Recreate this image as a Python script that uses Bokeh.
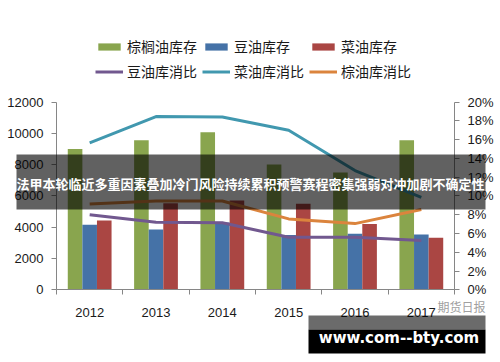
from bokeh.plotting import figure
from bokeh.models import (Range1d, LinearAxis, FixedTicker, PrintfTickFormatter,
                          Legend, LegendItem, BoxAnnotation, Label, ColumnDataSource)
from bokeh.transform import dodge
from bokeh.embed import file_html
from bokeh.resources import INLINE

# ---- data ----
years = ["2012", "2013", "2014", "2015", "2016", "2017"]
palm_stock = [9000, 9550, 10070, 8000, 7500, 9550]      # 棕榈油库存
soy_stock = [4150, 3850, 4300, 3500, 3580, 3530]        # 豆油库存
rape_stock = [4430, 5530, 5700, 5500, 4200, 3320]       # 菜油库存
soy_ratio = [8.0, 7.2, 7.15, 5.6, 5.6, 5.25]            # 豆油库消比 (%)
rape_ratio = [15.65, 18.45, 18.4, 17.0, 12.7, 9.85]     # 菜油库消比 (%)
palm_ratio = [9.15, 9.45, 9.45, 7.55, 7.05, 8.55]       # 棕油库消比 (%)
left_ticks = [0, 2000, 4000, 6000, 8000, 10000, 12000]
right_ticks = [0, 2, 4, 6, 8, 10, 12, 14, 16, 18, 20]

banner_text = "法甲本轮临近多重因素叠加冷门风险持续累积预警赛程密集强弱对冲加剧不确定性"
site_text = "www.com--bty.com"
source_text = "期货日报"

n = len(years)
xc = [i + 0.5 for i in range(n)]
src = ColumnDataSource(dict(x=xc, palm=palm_stock, soy=soy_stock, rape=rape_stock,
                            sr=soy_ratio, rr=rape_ratio, pr=palm_ratio))

# ---- canvas geometry (pixels) ----
W, H = 500, 362
PL, PR, PT, PB = 56.0, 454.0, 101.5, 289.3   # chart area
YMAX, PMAX = 12000.0, 20.0
xpx = n / (PR - PL)
ypx = YMAX / (PB - PT)
x_start, x_end = -PL * xpx, n + (W - PR) * xpx
y_start, y_end = -(H - PB) * ypx, YMAX + PT * ypx

p = figure(width=W, height=H, output_backend="svg", toolbar_location=None,
           x_range=Range1d(x_start, x_end), y_range=Range1d(y_start, y_end),
           min_border=0, min_border_left=0, min_border_right=0,
           min_border_top=0, min_border_bottom=0,
           background_fill_color="white", border_fill_color="white", outline_line_color=None)
p.xgrid.visible = False
p.ygrid.visible = False
p.extra_y_ranges = {"pct": Range1d(y_start * PMAX / YMAX, y_end * PMAX / YMAX)}

FONT = "Liberation Sans"
AX = "#868686"
LBL = "#1a1a1a"

# x axis
xa = p.xaxis[0]
xa.fixed_location = 0
xa.bounds = (0, n)
xa.ticker = FixedTicker(ticks=xc, minor_ticks=list(range(n + 1)))
xa.major_label_overrides = {x: y for x, y in zip(xc, years)}
xa.major_tick_out = 0
xa.major_tick_in = 0
xa.minor_tick_out = 5
xa.minor_tick_in = 0
xa.minor_tick_line_color = AX
xa.axis_line_color = AX
xa.major_label_standoff = 13
xa.major_label_text_font = FONT
xa.major_label_text_font_size = "13px"
xa.major_label_text_color = LBL

# left axis
ya = p.yaxis[0]
ya.fixed_location = 0
ya.bounds = (0, YMAX)
ya.ticker = FixedTicker(ticks=left_ticks)
ya.major_tick_out = 5
ya.major_tick_in = 0
ya.minor_tick_out = 0
ya.minor_tick_in = 0
ya.axis_line_color = AX
ya.major_tick_line_color = AX
ya.major_label_standoff = 8
ya.major_label_text_font = FONT
ya.major_label_text_font_size = "13px"
ya.major_label_text_color = LBL

# right axis
ra = LinearAxis(y_range_name="pct", ticker=FixedTicker(ticks=right_ticks),
                formatter=PrintfTickFormatter(format="%d%%"), fixed_location=n,
                bounds=(0, PMAX))
ra.major_tick_out = 5
ra.major_tick_in = 0
ra.minor_tick_out = 0
ra.minor_tick_in = 0
ra.axis_line_color = AX
ra.major_tick_line_color = AX
ra.major_label_standoff = 8
ra.major_label_text_font = FONT
ra.major_label_text_font_size = "13px"
ra.major_label_text_color = LBL
p.add_layout(ra, "right")

# bars
bw = 0.22
GREEN, BLUE, RED = "#89A54E", "#4572A7", "#AA4643"
PURPLE, TEAL, ORANGE = "#71588F", "#4198AF", "#DB843D"
r_palm = p.vbar(x=dodge("x", -bw, range=p.x_range), top="palm", width=bw, source=src,
                fill_color=GREEN, line_color=None)
r_soy = p.vbar(x=dodge("x", 0.0, range=p.x_range), top="soy", width=bw, source=src,
               fill_color=BLUE, line_color=None)
r_rape = p.vbar(x=dodge("x", bw, range=p.x_range), top="rape", width=bw, source=src,
                fill_color=RED, line_color=None)

# lines
r_sr = p.line("x", "sr", source=src, y_range_name="pct", line_color=PURPLE, line_width=3, line_join="round")
r_rr = p.line("x", "rr", source=src, y_range_name="pct", line_color=TEAL, line_width=3, line_join="round")
r_pr = p.line("x", "pr", source=src, y_range_name="pct", line_color=ORANGE, line_width=3, line_join="round")

LFONT = "Noto Sans CJK SC"

def mk_legend(items, loc):
    return Legend(items=items, location=loc, orientation="horizontal",
                  glyph_width=28, glyph_height=9, label_standoff=4, label_width=70,
                  label_height=9, spacing=5, padding=0, margin=0,
                  border_line_color=None, background_fill_alpha=0,
                  label_text_font=LFONT, label_text_font_size="14px", label_text_color=LBL)

lg1 = mk_legend([LegendItem(label="棕榈油库存", renderers=[r_palm]),
                 LegendItem(label="豆油库存", renderers=[r_soy]),
                 LegendItem(label="菜油库存", renderers=[r_rape])], (95, H - 56))
lg2 = mk_legend([LegendItem(label="豆油库消比", renderers=[r_sr]),
                 LegendItem(label="菜油库消比", renderers=[r_rr]),
                 LegendItem(label="棕油库消比", renderers=[r_pr])], (95, H - 81))
p.add_layout(lg1)
p.add_layout(lg2)

def sbox(l, r, t, b, color, alpha):
    return BoxAnnotation(left=l, right=r, top=H - t, bottom=H - b,
                         left_units="screen", right_units="screen",
                         top_units="screen", bottom_units="screen",
                         fill_color=color, fill_alpha=alpha, line_color=None, level="overlay")

# overlay banner
p.add_layout(sbox(16, 485, 154, 209, "black", 0.62))
p.add_layout(Label(x=16, y=H - 183, x_units="screen", y_units="screen", text=banner_text,
                   text_color="white", text_font=LFONT, text_font_style="bold",
                   text_font_size="13px", text_baseline="middle", text_align="left",
                   level="overlay"))

# source mark
p.add_layout(Label(x=437, y=H - 306, x_units="screen", y_units="screen", text=source_text,
                   text_color="#a0a0a0", text_font=LFONT, text_font_size="12px",
                   text_baseline="middle", text_align="left"))

# bottom watermark
p.add_layout(sbox(308, 485, 315, 329, "black", 0.58))
p.add_layout(sbox(308, 485, 329, 353, "black", 1.0))
p.add_layout(Label(x=398.5, y=H - 337, x_units="screen", y_units="screen", text=site_text,
                   text_color="white", text_font="DejaVu Sans", text_font_style="bold",
                   text_font_size="15px", text_baseline="middle", text_align="center",
                   level="overlay"))

open("out.html", "w").write(file_html(p, INLINE))
